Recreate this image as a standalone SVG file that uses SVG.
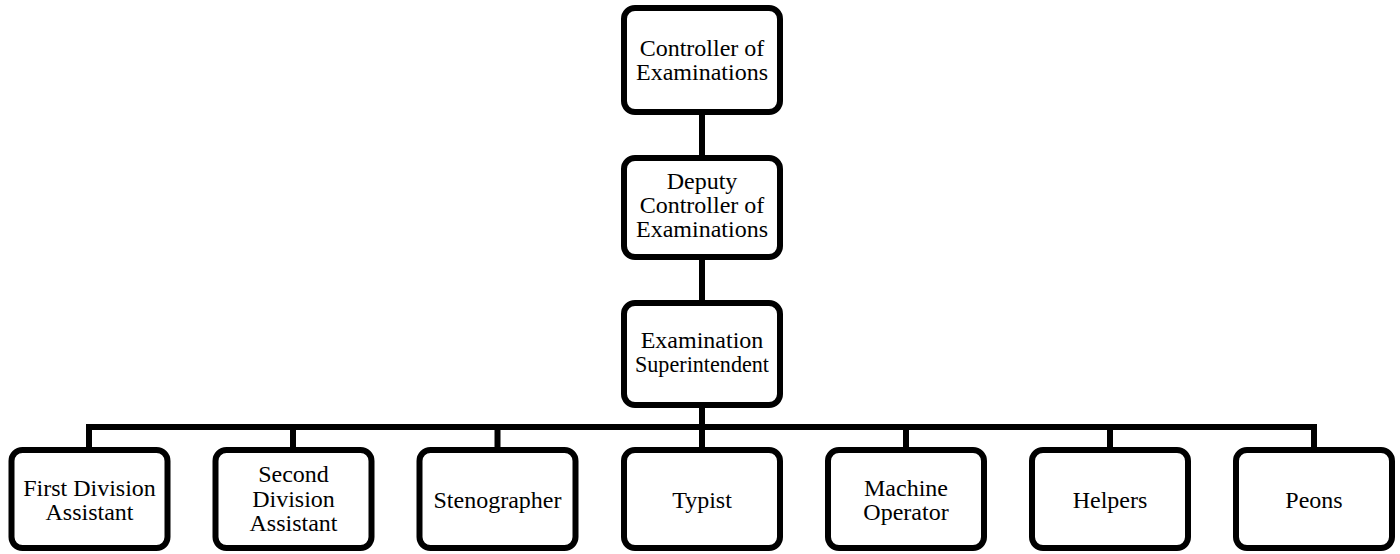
<svg xmlns="http://www.w3.org/2000/svg" width="1400" height="554" viewBox="0 0 1400 554">
<style>
.box{fill:#fff;stroke:#000;stroke-width:6}
.t{font-family:"Liberation Serif","Times New Roman",serif;font-size:24px;fill:#000;text-anchor:middle}
.c{fill:none;stroke:#000;stroke-width:6}
</style>
<g id="connectors">
<line class="c" x1="702" y1="112" x2="702" y2="158"/>
<line class="c" x1="702" y1="257" x2="702" y2="303"/>
<line class="c" x1="702" y1="405" x2="702" y2="427"/>
<polyline class="c" points="89,450 89,427 1314,427 1314,450"/>
<line class="c" x1="293" y1="427" x2="293" y2="450"/>
<line class="c" x1="497.5" y1="427" x2="497.5" y2="450"/>
<line class="c" x1="702" y1="427" x2="702" y2="450"/>
<line class="c" x1="906" y1="427" x2="906" y2="450"/>
<line class="c" x1="1110" y1="427" x2="1110" y2="450"/>
</g>
<g id="controller">
<rect class="box" x="624" y="8" width="156" height="104" rx="11"/>
<text class="t" x="702" y="56">Controller of</text>
<text class="t" x="702" y="80">Examinations</text>
</g>
<g id="deputy">
<rect class="box" x="624" y="158" width="156" height="99" rx="11"/>
<text class="t" x="702" y="189">Deputy</text>
<text class="t" x="702" y="213">Controller of</text>
<text class="t" x="702" y="237">Examinations</text>
</g>
<g id="superintendent">
<rect class="box" x="624" y="303" width="156" height="102" rx="11"/>
<text class="t" x="702" y="348">Examination</text>
<text class="t" x="702" y="372" textLength="134" lengthAdjust="spacingAndGlyphs">Superintendent</text>
</g>
<g id="first-division">
<rect class="box" x="11.5" y="450" width="156" height="98" rx="11"/>
<text class="t" x="89.5" y="496">First Division</text>
<text class="t" x="89.5" y="520">Assistant</text>
</g>
<g id="second-division">
<rect class="box" x="215.5" y="450" width="156" height="98" rx="11"/>
<text class="t" x="293.5" y="482">Second</text>
<text class="t" x="293.5" y="507">Division</text>
<text class="t" x="293.5" y="531">Assistant</text>
</g>
<g id="stenographer">
<rect class="box" x="419.5" y="450" width="156" height="98" rx="11"/>
<text class="t" x="497.5" y="508">Stenographer</text>
</g>
<g id="typist">
<rect class="box" x="624" y="450" width="156" height="98" rx="11"/>
<text class="t" x="702" y="508">Typist</text>
</g>
<g id="machine-operator">
<rect class="box" x="828" y="450" width="156" height="98" rx="11"/>
<text class="t" x="906" y="496">Machine</text>
<text class="t" x="906" y="520">Operator</text>
</g>
<g id="helpers">
<rect class="box" x="1032" y="450" width="156" height="98" rx="11"/>
<text class="t" x="1110" y="508">Helpers</text>
</g>
<g id="peons">
<rect class="box" x="1236" y="450" width="156" height="98" rx="11"/>
<text class="t" x="1314" y="508">Peons</text>
</g>
</svg>
